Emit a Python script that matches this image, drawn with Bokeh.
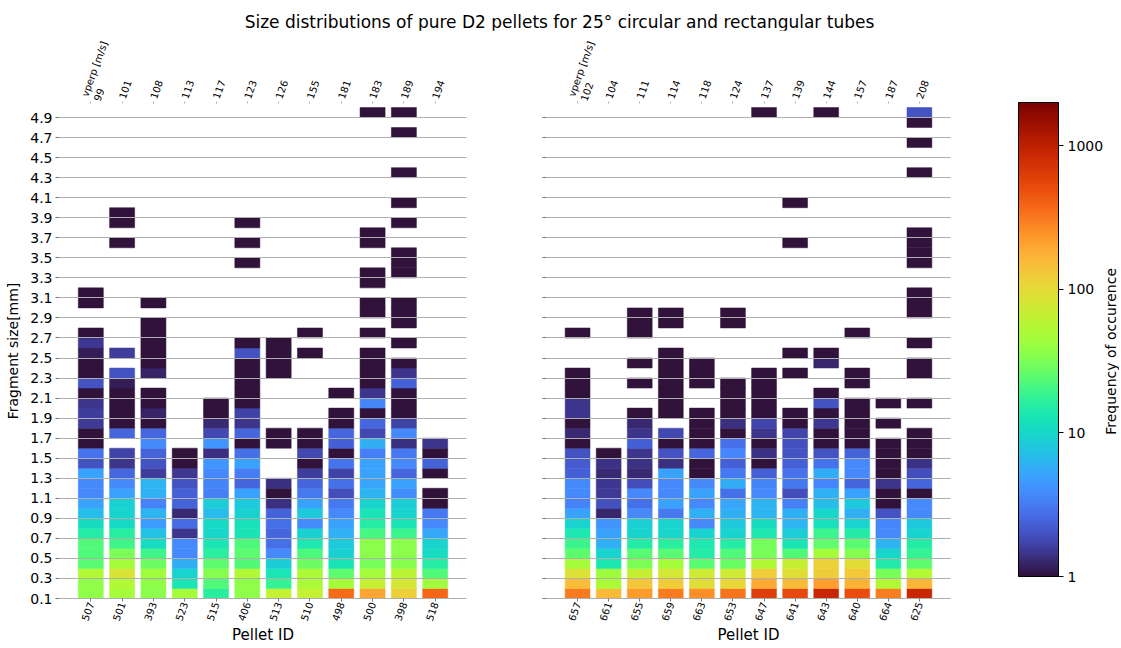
import math
from bokeh.plotting import figure
from bokeh.models import (ColumnDataSource, LogColorMapper, ColorBar, FixedTicker,
                          LinearAxis, Range1d, PrintfTickFormatter, CustomJSTickFormatter,
                          Label, Div)
from bokeh.palettes import Turbo256
from bokeh.layouts import row, column
from bokeh.transform import transform
from bokeh.embed import file_html
from bokeh.resources import INLINE

# ---------------- data ----------------
title_text = "Size distributions of pure D2 pellets for 25\u00b0 circular and rectangular tubes"

left_ids = ["507", "501", "393", "523", "515", "406", "513", "510", "498", "500", "398", "518"]
left_vperp = ["99", "101", "108", "113", "117", "123", "126", "155", "181", "183", "189", "194"]
right_ids = ["657", "661", "655", "659", "663", "653", "647", "641", "643", "640", "664", "625"]
right_vperp = ["102", "104", "111", "114", "118", "124", "137", "139", "144", "157", "187", "208"]
vperp_name = "vperp [m/s]"

y_ticks = [0.1, 0.3, 0.5, 0.7, 0.9, 1.1, 1.3, 1.5, 1.7, 1.9, 2.1, 2.3, 2.5, 2.7, 2.9,
           3.1, 3.3, 3.5, 3.7, 3.9, 4.1, 4.3, 4.5, 4.7, 4.9]
cbar_ticks = [1, 10, 100, 1000]

# frequency of occurrence per 0.1 mm size bin, first bin = 0.1-0.2 mm (0 = none)
f507 = [37, 37, 54, 24, 23, 23, 15, 11, 7, 5, 3.7, 3.7, 5, 2, 2.9,
        1, 1, 1.55, 1.6, 1.45, 1, 2.0, 1, 1, 1.15, 1.5, 1, 0, 0, 1, 1]
f501 = [45, 55, 85, 45, 32, 20, 16, 10.5, 9.5, 9, 5, 3.7, 2.5, 1.45, 1.7,
        0, 2.5, 1, 1, 1, 1, 1.15, 2.0, 0, 1.6, 0, 0, 0, 0, 0, 0, 0, 0, 0, 0, 1, 0, 1, 1]
f393 = [36, 37, 44, 28, 20, 11, 7.5, 4.8, 6.3, 3.4, 6, 6.3, 1.6, 2.0, 2.4,
        3.7, 2.5, 1, 1.2, 1, 1, 0, 1.2, 1, 1, 1, 1, 1, 0, 1]
f523 = [45, 13, 9.5, 5.8, 3.7, 3.7, 1.45, 2.6, 1.3, 2.4, 2.3, 2.0, 1.5, 1, 1]
f515 = [16, 23, 35, 25, 16, 13, 10, 10.5, 6.8, 8.5, 3.3, 3.5, 3.7, 4.4, 1.35,
        4.3, 1.8, 1.3, 1, 1]
f406 = [37, 37, 53, 23, 25, 22, 12.5, 12, 9, 8.2, 5, 2.5, 3.2, 5, 2.8,
        1, 2.5, 1.45, 1.7, 1, 1, 1, 1, 1, 2.0, 1, 0, 0, 0, 0, 0, 0, 0, 1, 0, 1, 0, 1]
f513 = [65, 18, 13, 8.5, 3.7, 2.8, 2.5, 2.8, 2.4, 1.35, 1, 1.35, 0, 0, 0,
        1, 1, 0, 0, 0, 0, 0, 1, 1, 1, 1]
f510 = [65, 50, 50, 28, 22, 14, 9, 3.9, 8, 5, 3.0, 2.5, 1.6, 1, 1.8,
        1, 1, 0, 0, 0, 0, 0, 0, 0, 1, 0, 1]
f498 = [360, 45, 25, 12.5, 9, 8, 6, 5, 3.7, 3, 1.9, 2.8, 1.7, 2.9, 1,
        2.3, 2.5, 1, 1, 0, 1]
f500 = [200, 67, 46, 31, 36, 36, 21, 15, 12.5, 9.5, 6.3, 5.2, 5, 5, 3.3,
        5.8, 1.8, 2.5, 1, 3.6, 1.45, 1, 1, 1, 1, 0, 1, 0, 1, 1, 0, 1, 1, 0, 0, 1, 1,
        0, 0, 0, 0, 0, 0, 0, 0, 0, 0, 0, 1]
f398 = [118, 80, 60, 35, 36, 36, 19, 12.5, 9.5, 8.5, 4, 5, 2.5, 3.7, 3.0,
        1.35, 3.7, 1.7, 1, 1, 1, 2.3, 1.45, 1, 0, 1, 0, 1, 1, 1,
        0, 0, 1, 1, 1, 0, 0, 1, 0, 1, 0, 0, 1, 0, 0, 0, 1, 0, 1]
f518 = [390, 44, 23, 15, 11, 9.3, 5.3, 3.7, 3.0, 1, 1, 0, 1, 2.4, 1, 1.45]

f657 = [310, 150, 90, 45, 25, 19, 14, 9.5, 5, 3.4, 3.7, 3.7, 2.3, 2.2, 2.0,
        1, 1.3, 1, 1.45, 1.45, 1, 1, 1, 0, 0, 0, 1]
f661 = [160, 50, 43, 13.5, 9.3, 5.8, 5, 4.2, 1.25, 1.95, 1.55, 1.5, 1.3, 1.4, 1]
f655 = [225, 130, 66, 32, 24, 15, 9.5, 8.8, 3.7, 2.8, 3.7, 1.9, 1.3, 1.4, 1.45,
        2.3, 1.45, 1.3, 1, 0, 0, 1, 0, 1, 0, 0, 1, 1, 1]
f659 = [310, 120, 80, 45, 24, 16, 10, 9.3, 3, 5, 3.7, 3.7, 5.1, 1.35, 2.0,
        1, 1.8, 0, 1, 1, 1, 1, 1, 1, 1, 0, 0, 1, 1]
f663 = [255, 95, 75, 24, 15, 14, 9.3, 3.7, 5.9, 3.7, 5, 3.7, 1, 1, 2.5,
        1, 1, 1, 1, 0, 0, 1, 1, 1]
f653 = [330, 105, 75, 27, 23, 15, 9.5, 8, 5.9, 5.2, 2.8, 5.7, 3, 2.3, 3.6,
        2.8, 1, 1.35, 1, 1, 1, 1, 0, 0, 0, 0, 0, 1, 1]
f647 = [610, 190, 125, 52, 31, 30, 14, 10.8, 6.2, 6.3, 3.7, 3.5, 2.3, 1, 1.4,
        1, 1.45, 1.75, 1, 1, 1, 1, 1,
        0, 0, 0, 0, 0, 0, 0, 0, 0, 0, 0, 0, 0, 0, 0, 0, 0, 0, 0, 0, 0, 0, 0, 0, 0, 1]
f641 = [530, 155, 92, 67, 23, 12.5, 8.5, 6.2, 5.9, 3.3, 1.9, 3, 2.9, 2.3, 2.0,
        1.95, 1.75, 1, 1, 0, 0, 0, 1, 0, 1, 0, 0, 0, 0, 0, 0, 0, 0, 0, 0, 1, 0, 0, 0, 1]
f643 = [890, 220, 120, 115, 46, 26, 19, 11.5, 10, 7, 6, 3.6, 5.7, 2.9, 2.0,
        1, 1, 1.5, 1, 2.0, 1, 0, 0, 1.25, 1,
        0, 0, 0, 0, 0, 0, 0, 0, 0, 0, 0, 0, 0, 0, 0, 0, 0, 0, 0, 0, 0, 0, 0, 1]
f640 = [510, 175, 130, 95, 34, 24, 15, 9.3, 5.9, 8, 5, 2.5, 3.7, 3.7, 2.4,
        1, 1, 1, 1, 1, 0, 1, 1, 0, 0, 0, 1]
f664 = [300, 54, 31, 14.5, 10, 6.2, 3.7, 3.6, 2.0, 1, 1, 1.45, 1, 1, 1,
        1, 0, 1, 0, 1]
f625 = [880, 170, 55, 25, 18, 15, 9.5, 8, 3.7, 3.7, 1, 2.5, 1.9, 1.4, 1,
        1, 1, 0, 0, 1, 0, 0, 1, 1, 0, 1, 0, 0, 1, 1, 1, 0, 0, 1, 1, 1, 1,
        0, 0, 0, 0, 0, 1, 0, 0, 1, 0, 1, 2.0]

left_freq = [f507, f501, f393, f523, f515, f406, f513, f510, f498, f500, f398, f518]
right_freq = [f657, f661, f655, f659, f663, f653, f647, f641, f643, f640, f664, f625]

BIN0 = 0.1
BINW = 0.1

# ---------------- style ----------------
FONT = "DejaVu Sans"
TITLE_H = 30
H = 617
TICK_C = "#777777"
mapper = LogColorMapper(palette=Turbo256, low=1, high=2000)


def cells(freqs):
    xs, ys, vs = [], [], []
    for i, col in enumerate(freqs):
        for k, v in enumerate(col):
            if v > 0:
                xs.append(i)
                ys.append(BIN0 + BINW * (k + 0.5))
                vs.append(v)
    return ColumnDataSource(dict(x=xs, y=ys, v=vs))


def panel(freqs, ids, vperp, width, border_left, border_right, show_y):
    p = figure(width=width, height=H, x_range=Range1d(-1, 12), y_range=Range1d(0.1, 5.04),
               output_backend="svg", toolbar_location=None,
               min_border_left=border_left, min_border_right=border_right,
               min_border_top=73, min_border_bottom=38)
    p.outline_line_color = None
    p.background_fill_color = "white"
    p.xgrid.visible = False
    p.ygrid.ticker = FixedTicker(ticks=y_ticks)
    p.ygrid.grid_line_color = "#b0b0b0"
    p.ygrid.grid_line_width = 1
    p.ygrid.level = "overlay"

    src = cells(freqs)
    p.rect(x="x", y="y", width=0.8, height=BINW, source=src,
           fill_color=transform("v", mapper), line_color=transform("v", mapper), line_width=0.5)

    # bottom axis
    xa = p.xaxis[0]
    xa.ticker = FixedTicker(ticks=list(range(len(ids))))
    xa.major_label_overrides = {i: s for i, s in enumerate(ids)}
    xa.major_label_orientation = math.radians(70)
    xa.major_label_text_font = FONT
    xa.major_label_text_font_size = "10px"
    xa.major_label_text_color = "black"
    xa.major_label_standoff = 1
    xa.axis_line_color = "#b0b0b0"
    xa.major_tick_out = 3
    xa.major_tick_in = 0
    xa.major_tick_line_color = TICK_C
    xa.minor_tick_line_color = None
    xa.axis_label = "Pellet ID"
    xa.axis_label_text_font = FONT
    xa.axis_label_text_font_size = "15px"
    xa.axis_label_text_font_style = "normal"
    xa.axis_label_text_color = "black"
    xa.axis_label_standoff = 0

    # top axis with perpendicular velocities
    top_labels = {i: s for i, s in enumerate(vperp)}
    top_labels[0] = vperp_name + "\n" + vperp[0]
    top = LinearAxis(ticker=FixedTicker(ticks=list(range(len(vperp)))),
                     major_label_overrides=top_labels,
                     major_label_orientation=math.radians(70),
                     major_label_text_font=FONT, major_label_text_font_size="10px",
                     major_label_text_color="black",
                     major_label_standoff=3, axis_line_color=None,
                     major_tick_out=2, major_tick_in=0, major_tick_line_color="#b0b0b0",
                     minor_tick_line_color=None)
    p.add_layout(top, "above")

    # left axis
    ya = p.yaxis[0]
    ya.ticker = FixedTicker(ticks=y_ticks)
    ya.axis_line_color = None
    ya.major_tick_out = 4
    ya.major_tick_in = 0
    ya.major_tick_line_color = TICK_C
    ya.minor_tick_line_color = None
    ya.major_label_text_font = FONT
    ya.major_label_text_font_size = "14px"
    ya.major_label_text_color = "black"
    ya.major_label_standoff = 3
    if show_y:
        ya.formatter = PrintfTickFormatter(format="%.1f")
        ya.axis_label = "Fragment size[mm]"
        ya.axis_label_text_font = FONT
        ya.axis_label_text_font_size = "14px"
        ya.axis_label_text_font_style = "normal"
        ya.axis_label_text_color = "black"
        ya.axis_label_standoff = 6
    else:
        ya.formatter = CustomJSTickFormatter(code="return ''")
    return p


left = panel(left_freq, left_ids, left_vperp, width=476, border_left=59, border_right=10, show_y=True)
right = panel(right_freq, right_ids, right_vperp, width=479, border_left=70, border_right=5, show_y=False)

CBW = 164
cbf = figure(width=CBW, height=H, x_range=Range1d(0, CBW), y_range=Range1d(0, H),
             output_backend="svg", toolbar_location=None, min_border=0,
             x_axis_location=None, y_axis_location=None)
cbf.grid.visible = False
cbf.outline_line_color = None
cb = ColorBar(color_mapper=mapper, ticker=FixedTicker(ticks=cbar_ticks),
              formatter=PrintfTickFormatter(format="%d"),
              width=40, height=474, location=(63, 22), padding=0,
              major_label_text_font=FONT, major_label_text_font_size="14px",
              major_label_text_color="black",
              major_tick_out=5, major_tick_in=0, major_tick_line_color="black",
              minor_tick_line_color=None, bar_line_color="black",
              background_fill_color=None, border_line_color=None, label_standoff=4)
cbf.add_layout(cb, "center")
cbf.add_layout(Label(x=155, y=308, text="Frequency of occurence", angle=math.pi / 2,
                     text_align="center", text_baseline="middle", text_font=FONT,
                     text_font_size="14px", text_color="black"))

title = Div(text='<div style="text-align:center;font-size:17px;font-family:\'DejaVu Sans\';'
                 'color:black;padding-top:10px;width:1119px;">' + title_text + '</div>',
            width=1119, height=TITLE_H, margin=(0, 0, 0, 0))

layout = column(title, row(left, right, cbf, spacing=0), spacing=0)

html = file_html(layout, INLINE, title="Size distributions")
with open("out.html", "w", encoding="utf-8") as fh:
    fh.write(html)
